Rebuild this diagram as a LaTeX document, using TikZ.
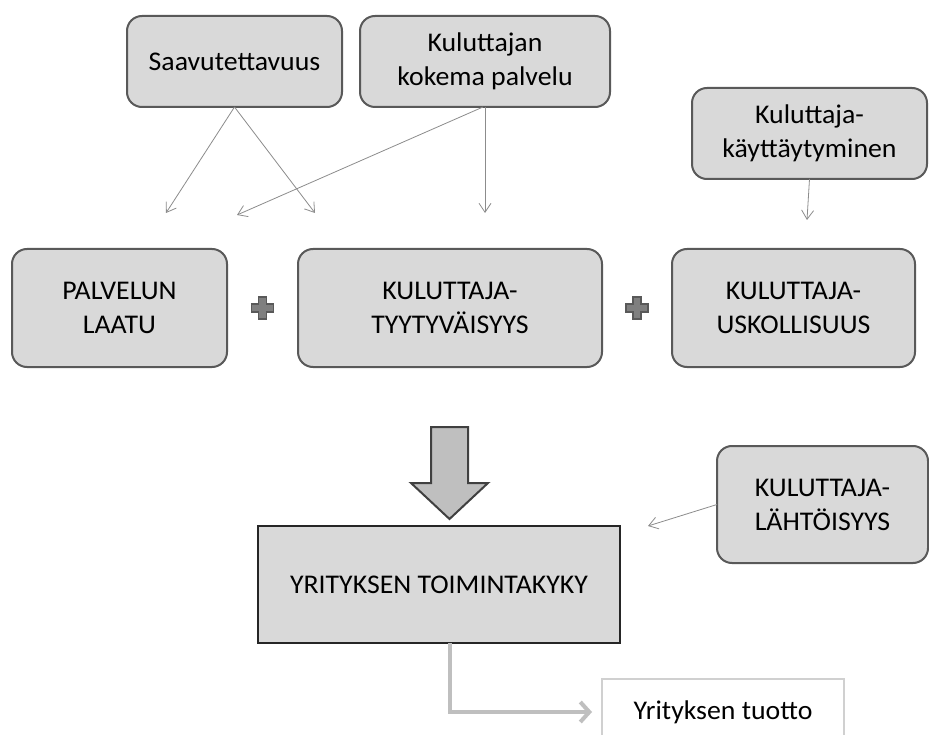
\documentclass[tikz,border=0pt]{standalone}
\usepackage{fontspec}
\setmainfont{Carlito}[FakeStretch=1.03]
\usetikzlibrary{arrows.meta,calc}
\definecolor{boxfill}{HTML}{D9D9D9}
\definecolor{boxline}{HTML}{595959}
\definecolor{thinline}{HTML}{8C8C8C}
\definecolor{plusfill}{HTML}{7F7F7F}
\definecolor{bigfill}{HTML}{BFBFBF}
\definecolor{bigline}{HTML}{404040}
\definecolor{flowline}{HTML}{BFBFBF}
\definecolor{outline}{HTML}{D0D0D0}
\begin{document}
\begin{tikzpicture}[x=1pt,y=-1pt,
  every node/.style={font=\fontsize{27}{34}\selectfont, align=center, inner sep=0pt, outer sep=0pt},
  factor/.style={draw=boxline, fill=boxfill, line width=2pt, rounded corners=15pt},
  thinarrow/.style={draw=thinline, line width=0.8pt, -{Straight Barb[length=9pt,width=12pt]}},
  plussign/.style={fill=plusfill, draw=boxline, line width=1.2pt},
]
\fill[white] (0,0) rectangle (929,735);
\path[use as bounding box] (0,0) rectangle (929,735);

% upper row of influencing factors
\node[factor, minimum width=215pt, minimum height=91pt] (sav) at (234.5,61.5) {Saavutettavuus};
\node[factor, minimum width=250pt, minimum height=91pt] (kok) at (485,61.5) {Kuluttajan\\kokema palvelu};
\node[factor, minimum width=235pt, minimum height=91pt] (kay) at (809.5,133.5) {Kuluttaja-\\käyttäytyminen};

% main chain
\node[factor, minimum width=215pt, minimum height=118pt] (pal) at (119.5,308) {PALVELUN\\LAATU};
\node[factor, minimum width=304pt, minimum height=118pt] (tyy) at (450,308) {KULUTTAJA-\\TYYTYVÄISYYS};
\node[factor, minimum width=243pt, minimum height=118pt] (usk) at (793.5,308) {KULUTTAJA-\\USKOLLISUUS};

% result box and side factor
\node[draw=black!85, fill=boxfill, line width=2.5pt, minimum width=362pt, minimum height=117pt] (toi) at (439,584.5) {YRITYKSEN TOIMINTAKYKY};
\node[factor, minimum width=211pt, minimum height=117pt] (lah) at (822.5,504.5) {KULUTTAJA-\\LÄHTÖISYYS};
\node[draw=outline, fill=white, line width=2pt, minimum width=242pt, minimum height=66pt] (tuo) at (723,712) {Yrityksen tuotto};

% free ends of the thin arrows
\coordinate (e1) at (166,213);
\coordinate (e2) at (315,213);
\coordinate (e3) at (237,215);
\coordinate (e4) at (485,213);
\coordinate (e5) at (807,220);
\coordinate (e6) at (648,526);
\coordinate (kokfoot) at (483,107);

\draw[thinarrow] (sav.south) -- (e1);
\draw[thinarrow] (sav.south) -- (e2);
\draw[thinarrow] (kokfoot) -- (e3);
\draw[thinarrow] (kok.south) -- (e4);
\draw[thinarrow] (kay.south) -- (e5);
\draw[thinarrow] (lah.west) -- (e6);

% plus signs between the boxes
\coordinate (p1) at ($(pal.east)!0.5!(tyy.west)$);
\coordinate (p2) at ($(tyy.east)!0.5!(usk.west)$);
\foreach \p in {p1,p2}{
  \draw[plussign] (\p) ++(-4,-11) -- ++(8,0) -- ++(0,7) -- ++(7,0) -- ++(0,8) -- ++(-7,0)
    -- ++(0,7) -- ++(-8,0) -- ++(0,-7) -- ++(-7,0) -- ++(0,-8) -- ++(7,0) -- cycle;
}

% big downward arrow
\coordinate (tip) at (449.5,519);
\draw[fill=bigfill, draw=bigline, line width=2pt, line join=miter]
  (431,427) -- (468,427) -- (468,483) -- (488,483) -- (tip) -- (411,483) -- (431,483) -- cycle;

% grey elbow connector to the revenue box
\draw[draw=flowline, line width=4pt, shorten >=10pt, -{Straight Barb[length=9pt,width=20pt]}]
  (toi.south -| tip) |- (tuo.west);
\end{tikzpicture}
\end{document}
